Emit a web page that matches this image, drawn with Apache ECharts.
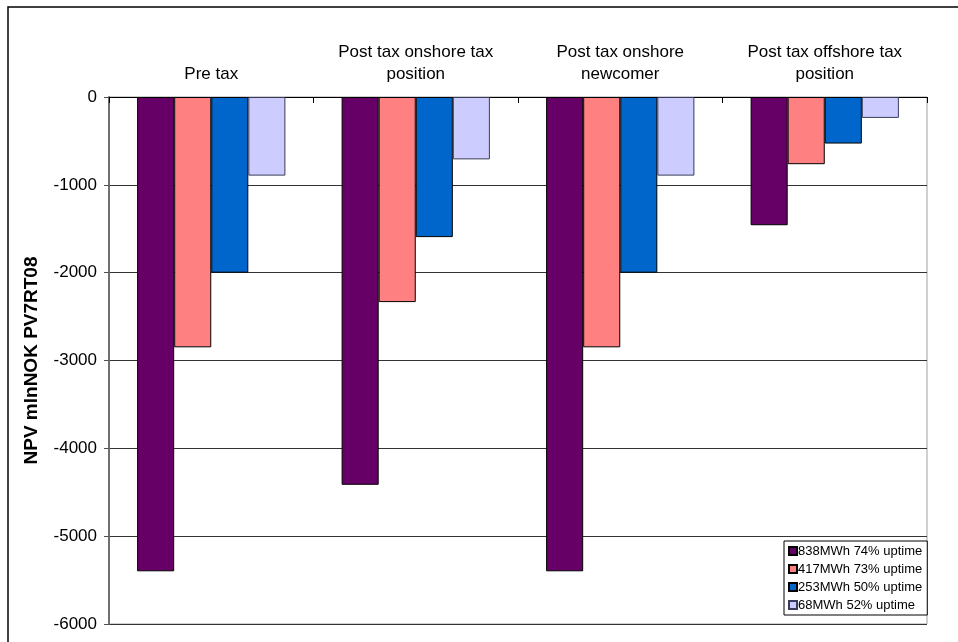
<!DOCTYPE html>
<html>
<head>
<meta charset="utf-8">
<script src="https://cdn.jsdelivr.net/npm/echarts@6/dist/echarts.min.js"></script>
<style>
  html, body { margin: 0; padding: 0; background: #fff; }
  #chart { width: 958px; height: 642px; }
</style>
</head>
<body>
<div id="chart"></div>
<script>
// Scenario groups along the top axis
const categories = [
  'Pre tax',
  'Post tax onshore tax\nposition',
  'Post tax onshore\nnewcomer',
  'Post tax offshore tax\nposition'
];

// NPV (mlnNOK) per plant size
const seriesNames = [
  '838MWh 74% uptime',
  '417MWh 73% uptime',
  '253MWh 50% uptime',
  '68MWh 52% uptime'
];
const npv838 = [-5400, -4415, -5400, -1460];
const npv417 = [-2850, -2335, -2850, -765];
const npv253 = [-2000, -1595, -2000, -530];
const npv68 = [-895, -710, -895, -238];

const yTicks = { min: -6000, max: 0, step: 1000 };

const colors = ['#660066', '#FF8080', '#0066CC', '#CCCCFF'];
const borders = ['#000000', '#000000', '#000000', '#3a3a5a'];
const values = [npv838, npv417, npv253, npv68];

const chart = echarts.init(document.getElementById('chart'), null, { renderer: 'canvas' });

const font = 'Liberation Sans, Arial, sans-serif';

chart.setOption({
  backgroundColor: '#ffffff',
  animation: false,
  textStyle: { fontFamily: font },
  graphic: [{
    type: 'rect',
    shape: { x: 8, y: 7, width: 1000, height: 700 },
    style: { fill: 'none', stroke: '#000', lineWidth: 1.5 },
    silent: true
  }],
  grid: {
    left: 109, right: 31, top: 97, bottom: 18,
    show: true, borderColor: '#a0a0a0', borderWidth: 1,
    backgroundColor: 'transparent'
  },
  legend: {
    orient: 'vertical',
    left: 784, top: 541,
    backgroundColor: '#fff',
    borderColor: '#000', borderWidth: 1,
    padding: [3, 5, 3, 4],
    itemGap: 4,
    itemWidth: 8, itemHeight: 8,
    icon: 'rect',
    textStyle: { fontSize: 13, color: '#000', fontFamily: font, lineHeight: 14, padding: [0, 0, 0, -4] },
    data: seriesNames
  },
  xAxis: {
    type: 'category',
    position: 'top',
    data: categories,
    axisLine: { show: true, onZero: true, lineStyle: { color: '#000', width: 1 } },
    axisTick: { show: true, inside: true, length: 6, lineStyle: { color: '#000' } },
    axisLabel: { interval: 0, fontSize: 17, lineHeight: 22, color: '#000', margin: 12, fontFamily: font },
    splitLine: { show: false }
  },
  yAxis: {
    type: 'value',
    min: yTicks.min, max: yTicks.max, interval: yTicks.step,
    name: 'NPV mlnNOK PV7RT08',
    nameLocation: 'middle',
    nameGap: 68,
    nameRotate: 90,
    nameTextStyle: { fontSize: 19, fontWeight: 'bold', color: '#000', fontFamily: font },
    axisLine: { show: true, lineStyle: { color: '#707070', width: 2 } },
    axisTick: { show: true, length: 5, lineStyle: { color: '#505050' } },
    axisLabel: { fontSize: 17, color: '#000', margin: 12, fontFamily: font, formatter: v => String(v) },
    splitLine: { show: true, lineStyle: { color: '#333', width: 1 } }
  },
  series: seriesNames.map((name, i) => ({
    name: name,
    type: 'bar',
    data: values[i],
    barGap: '0%',
    barCategoryGap: '27.5%',
    itemStyle: { color: colors[i], borderColor: borders[i], borderWidth: 1 }
  }))
});
</script>
</body>
</html>
